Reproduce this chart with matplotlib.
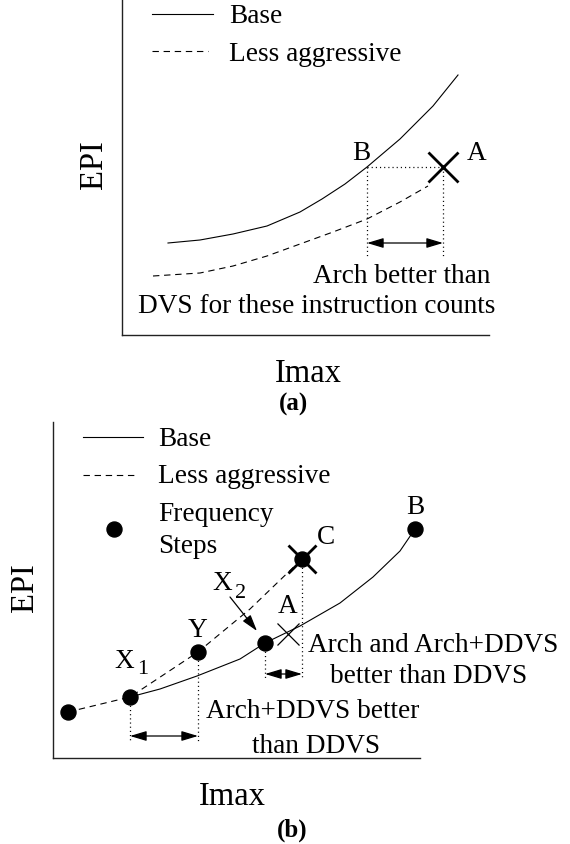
import matplotlib
matplotlib.use('Agg')
import matplotlib.pyplot as plt

plt.rcParams['font.family'] = ['Liberation Serif', 'DejaVu Serif']
plt.rcParams['lines.scale_dashes'] = False

W, H = 570, 845

# ---------------- Panel (a) data (schematic units: x = Imax, y = EPI) ----------------
a_base_x = [46, 78, 111, 145, 178, 200, 223, 245, 278, 311, 336]
a_base_y = [92, 95, 101, 109, 123, 136, 151, 168, 196, 229, 260]
a_less_x = [31, 78, 111, 145, 178, 211, 245, 278, 306]
a_less_y = [59, 62, 69, 79, 91, 103, 116, 133, 149]
a_A = (321, 168)
a_B = (245, 168)
a_range_y = 92
a_drop_y = 79

# ---------------- Panel (b) data ----------------
b_base_x = [77, 107, 144, 187, 212, 247, 287, 320, 347, 362]
b_base_y = [61, 69, 82, 99, 115, 132, 155, 181, 207, 229]
b_less_x = [15, 77, 145, 197, 249]
b_less_y = [46, 61, 106, 149, 199]
b_steps_x = [15, 77, 145, 212, 249, 362]
b_steps_y = [46, 61, 106, 115, 199, 229]
b_A = (235, 124)
b_C = (249, 199)
b_X1 = (77, 61)
b_Y = (145, 106)
b_X2 = (212, 115)
b_range1_y = 22
b_range2_y = 84
b_drop1_y = 17
b_drop2_y = 79

FS = 19.6
BIG = 23.5
DASH = (0, (4.6, 3.4))
DOT = (0, (0.8, 2.2))

fig = plt.figure(figsize=(W / 100, H / 100), dpi=100)
ax_a = fig.add_axes([122 / W, (H - 336) / H, 367 / W, 336 / H])
ax_b = fig.add_axes([53 / W, (H - 759) / H, 367 / W, 336 / H])

for ax in (ax_a, ax_b):
    ax.set_xlim(0, 367)
    ax.set_ylim(0, 336)
    ax.set_xticks([])
    ax.set_yticks([])
    ax.spines['top'].set_visible(False)
    ax.spines['right'].set_visible(False)
    for s in ('left', 'bottom'):
        ax.spines[s].set_linewidth(1.0)
        ax.spines[s].set_color('#222222')
    ax.patch.set_alpha(0)


def darrow(ax, x0, x1, y):
    ax.annotate('', xy=(x1, y), xytext=(x0, y),
                arrowprops=dict(arrowstyle='<|-|>,head_length=1.0,head_width=0.3',
                                mutation_scale=10, lw=0.9, color='black',
                                shrinkA=0, shrinkB=0))


# ================= Panel (a) =================
ax = ax_a
ax.plot([30, 91], [321, 321], color='black', lw=0.8)
ax.plot([30, 86], [284, 284], color='black', lw=0.8, linestyle=DASH)
ax.text(107, 313, 'Base', fontsize=FS, va='baseline')
ax.text(107, 275, 'Less aggressive', fontsize=FS, va='baseline')

ax.plot(a_base_x, a_base_y, color='black', lw=0.8)
ax.plot(a_less_x, a_less_y, color='black', lw=0.8, linestyle=DASH)
ax.plot([a_A[0]], [a_A[1]], marker='x', markersize=22, mew=2.0, color='black', clip_on=False)
ax.plot([a_B[0], a_A[0]], [a_B[1], a_A[1]], color='black', lw=0.9, linestyle=DOT)
ax.plot([a_B[0], a_B[0]], [a_B[1], a_drop_y], color='black', lw=0.9, linestyle=DOT)
ax.plot([a_A[0], a_A[0]], [a_A[1], a_drop_y], color='black', lw=0.9, linestyle=DOT)
darrow(ax, a_B[0], a_A[0], a_range_y)
ax.text(345, 176, 'A', fontsize=FS, va='baseline', ha='left')
ax.text(230, 176, 'B', fontsize=FS, va='baseline', ha='left')
ax.text(280, 53, 'Arch better than', fontsize=FS, va='baseline', ha='center')
ax.text(195, 23, 'DVS for these instruction counts', fontsize=FS, va='baseline', ha='center')

ax.text(-28, 171, 'EPI', fontsize=BIG, rotation=90, ha='center', va='center', clip_on=False)
ax.text(186, -46, 'Imax', fontsize=BIG, ha='center', va='baseline', clip_on=False)
ax.text(171, -75, '(a)', fontsize=18, fontweight='bold', ha='center', va='baseline', clip_on=False)

# ================= Panel (b) =================
ax = ax_b
ax.plot([30, 90], [321, 321], color='black', lw=0.8)
ax.plot([30, 85], [283, 283], color='black', lw=0.8, linestyle=DASH)
ax.plot([61], [229], marker='o', markersize=10.8, color='black', ls='none')
ax.text(105, 313, 'Base', fontsize=FS, va='baseline')
ax.text(105, 276, 'Less aggressive', fontsize=FS, va='baseline')
ax.text(105, 238, 'Frequency', fontsize=FS, va='baseline')
ax.text(105, 206, 'Steps', fontsize=FS, va='baseline')

ax.plot(b_base_x, b_base_y, color='black', lw=0.8)
ax.plot(b_less_x, b_less_y, color='black', lw=0.8, linestyle=DASH)
ax.plot(b_steps_x, b_steps_y, marker='o', markersize=10.8, color='black', ls='none',
        clip_on=False)
ax.plot([b_C[0]], [b_C[1]], marker='x', markersize=20, mew=2.0, color='black')
ax.plot([b_A[0]], [b_A[1]], marker='x', markersize=16.5, mew=0.9, color='black')

ax.plot([b_X1[0], b_X1[0]], [b_X1[1], b_drop1_y], color='black', lw=0.9, linestyle=DOT)
ax.plot([b_Y[0], b_Y[0]], [b_Y[1], b_drop1_y], color='black', lw=0.9, linestyle=DOT)
ax.plot([b_X2[0], b_X2[0]], [b_X2[1], b_drop2_y], color='black', lw=0.9, linestyle=DOT)
ax.plot([b_C[0], b_C[0]], [b_C[1], b_drop2_y], color='black', lw=0.9, linestyle=DOT)
darrow(ax, b_X1[0], b_Y[0], b_range1_y)
darrow(ax, b_X2[0], b_C[0], b_range2_y)

ax.annotate('', xy=(204, 127), xytext=(177, 161),
            arrowprops=dict(arrowstyle='-|>,head_length=1.0,head_width=0.3',
                            mutation_scale=10, lw=0.9, color='black',
                            shrinkA=0, shrinkB=0))

ax.text(362, 245, 'B', fontsize=FS, va='baseline', ha='center')
ax.text(264, 215, 'C', fontsize=FS, va='baseline', ha='left')
ax.text(235, 146, 'A', fontsize=FS, va='baseline', ha='center')
ax.text(145, 122, 'Y', fontsize=FS, va='baseline', ha='center')
ax.text(61, 91, 'X', fontsize=FS, va='baseline', ha='left')
ax.text(84, 85, '1', fontsize=16, va='baseline', ha='left')
ax.text(159, 169, 'X', fontsize=FS, va='baseline', ha='left')
ax.text(182, 161, '2', fontsize=16, va='baseline', ha='left')

ax.text(380, 107, 'Arch and Arch+DDVS', fontsize=FS, va='baseline', ha='center', clip_on=False)
ax.text(376, 76, 'better than DDVS', fontsize=FS, va='baseline', ha='center', clip_on=False)
ax.text(260, 41, 'Arch+DDVS better', fontsize=FS, va='baseline', ha='center', clip_on=False)
ax.text(263, 6, 'than DDVS', fontsize=FS, va='baseline', ha='center', clip_on=False)

ax.text(-28, 171, 'EPI', fontsize=BIG, rotation=90, ha='center', va='center', clip_on=False)
ax.text(179, -46, 'Imax', fontsize=BIG, ha='center', va='baseline', clip_on=False)
ax.text(239, -78, '(b)', fontsize=18, fontweight='bold', ha='center', va='baseline', clip_on=False)

fig.savefig('out.png', dpi=100)
